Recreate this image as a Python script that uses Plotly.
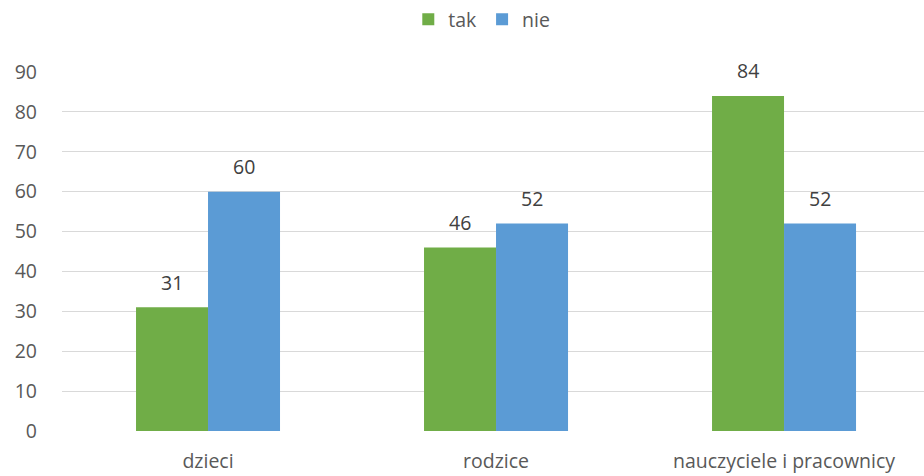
import plotly.graph_objects as go

categories = ["dzieci", "rodzice", "nauczyciele i pracownicy"]
tak = [31, 46, 84]
nie = [60, 52, 52]
series_names = ["tak", "nie"]
colors = ["#70AD47", "#5B9BD5"]
y_ticks = [0, 10, 20, 30, 40, 50, 60, 70, 80, 90]

FONT = "Open Sans"
FS = 19.5
fig = go.Figure()
for name, vals, col in zip(series_names, [tak, nie], colors):
    fig.add_trace(go.Bar(
        x=categories, y=vals, name=name, marker_color=col,
        marker_line_width=0,
    ))

offsets = [-36, 36]
for vals, dx in zip([tak, nie], offsets):
    for c, v in zip(categories, vals):
        fig.add_annotation(x=c, y=v, text=str(v), showarrow=False,
                           xshift=dx, yshift=25,
                           font=dict(family=FONT, size=FS, color="#404040"))

fig.update_layout(
    width=924, height=476,
    margin=dict(l=62, r=0, t=71, b=45),
    paper_bgcolor="white", plot_bgcolor="white",
    barmode="group", bargap=0.5, bargroupgap=0,
    font=dict(family=FONT, size=FS, color="#595959"),
    showlegend=True,
    legend=dict(orientation="h", x=0.487, xanchor="center", y=1.147, yanchor="middle",
                font=dict(family=FONT, size=FS, color="#595959"),
                itemwidth=30, tracegroupgap=0),
    xaxis=dict(range=[-0.507, 2.486], showgrid=False, zeroline=False,
               showline=False, ticks="", tickfont=dict(size=FS, color="#595959"),
               ticklabelstandoff=16),
    yaxis=dict(range=[0, 90], tickvals=y_ticks, showgrid=True, gridcolor="#D9D9D9",
               gridwidth=1, zeroline=False, showline=False, ticks="",
               tickfont=dict(size=FS, color="#595959"), ticklabelstandoff=24),
)
fig.write_html("out.html")
